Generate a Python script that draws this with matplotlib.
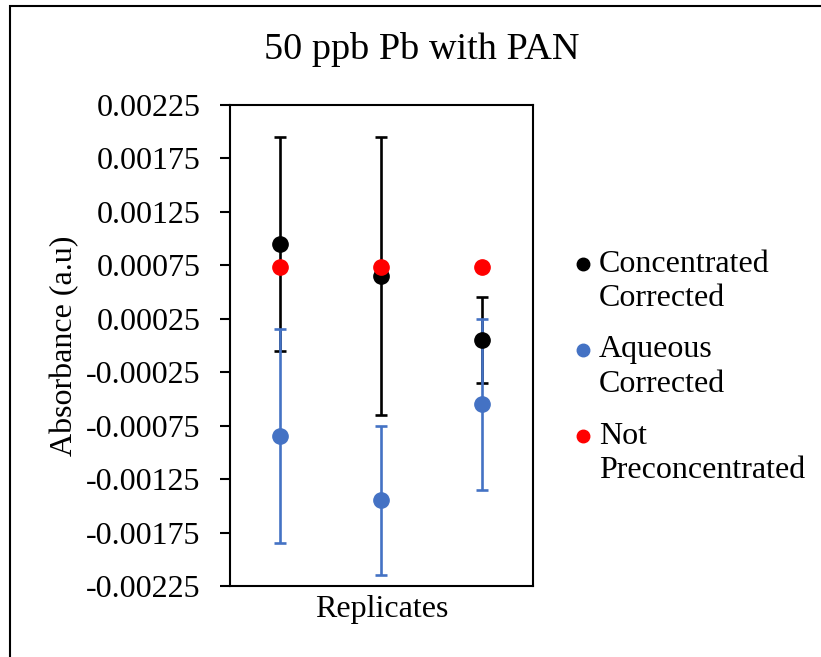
import matplotlib.pyplot as plt
from matplotlib.lines import Line2D
from matplotlib.patches import Rectangle

# ---------- DATA ----------
replicates = [1, 2, 3]

conc_corrected = [0.00095, 0.00065, 0.00005]
conc_err = [0.0010, 0.0013, 0.0004]

aq_corrected = [-0.00085, -0.00145, -0.00055]
aq_err = [0.0010, 0.0007, 0.0008]

not_preconc = [0.00073, 0.00073, 0.00073]

ytick_vals = [0.00225, 0.00175, 0.00125, 0.00075, 0.00025,
              -0.00025, -0.00075, -0.00125, -0.00175, -0.00225]
ytick_labels = ['0.00225', '0.00175', '0.00125', '0.00075', '0.00025',
                '-0.00025', '-0.00075', '-0.00125', '-0.00175', '-0.00225']

series_names = ['Concentrated\nCorrected', 'Aqueous\nCorrected', 'Not\nPreconcentrated']

BLACK = '#000000'
BLUE = '#4472C4'
RED = '#FF0000'

# ---------- PLOT ----------
plt.rcParams['font.family'] = ['Liberation Serif', 'DejaVu Serif']
FS = 23

fig = plt.figure(figsize=(8.21, 6.57), dpi=100)
ax = fig.add_axes([0.2801, 0.1081, 0.3691, 0.7321])

# error bars first, markers on top
ax.errorbar(replicates, conc_corrected, yerr=conc_err, fmt='none',
            ecolor=BLACK, elinewidth=1.9, capsize=4.5, capthick=1.9, zorder=2)
ax.errorbar(replicates, aq_corrected, yerr=aq_err, fmt='none',
            ecolor=BLUE, elinewidth=1.9, capsize=4.5, capthick=1.9, zorder=3)

ax.plot(replicates, conc_corrected, 'o', color=BLACK, ms=11, zorder=5)
ax.plot(replicates, aq_corrected, 'o', color=BLUE, ms=11, zorder=5)
ax.plot(replicates, not_preconc, 'o', color=RED, ms=11, zorder=6)

ax.set_xlim(0.5, 3.5)
ax.set_ylim(-0.00225, 0.00225)
ax.set_yticks(ytick_vals)
ax.set_yticklabels(ytick_labels, fontsize=FS)
ax.set_xticks([])
ax.tick_params(axis='y', direction='out', length=7, width=1.5, pad=14)
for sp in ax.spines.values():
    sp.set_linewidth(1.5)

ax.set_ylabel('Absorbance (a.u)', fontsize=FS, va='center')
ax.yaxis.set_label_coords(-0.545, 0.5)
ax.set_xlabel('Replicates', fontsize=FS, va='center')
ax.xaxis.set_label_coords(0.5, -0.048)

fig.text(0.514, 0.924, '50 ppb Pb with PAN', fontsize=27.5, ha='center', va='center')

# legend built by hand: marker next to the first line of each label
leg_y = [264, 350, 436]
leg_colors = [BLACK, BLUE, RED]
for name, yp, c in zip(series_names, leg_y, leg_colors):
    fy = 1 - yp / 657
    fig.add_artist(Line2D([583 / 821], [fy], marker='o', color=c, ms=9,
                          linestyle='none', transform=fig.transFigure))
    fig.text(599 / 821, fy, name.split('\n')[0], fontsize=FS, ha='left', va='center')
    fig.text(599 / 821, fy - 35 / 657, name.split('\n')[1], fontsize=FS,
             ha='left', va='center')

# outer chart border (runs off the right and bottom edges)
fig.add_artist(Rectangle((10 / 821, -0.2), 1.5, 1 - 6 / 657 + 0.2,
                         transform=fig.transFigure, fill=False,
                         edgecolor='black', linewidth=1.5))

fig.savefig('out.png', dpi=100)
